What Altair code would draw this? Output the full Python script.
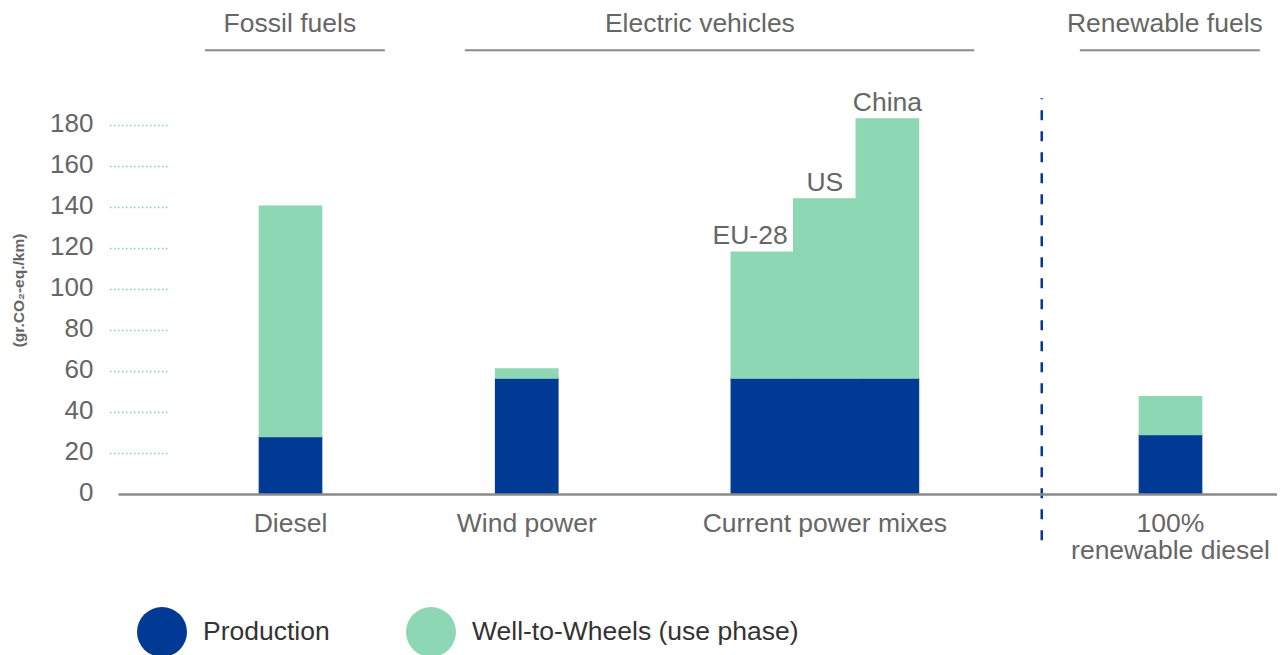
import altair as alt
import pandas as pd

FONT = "Liberation Sans"

# ---- data ----
bars = ["Diesel", "Wind power", "EU-28", "US", "China", "100% renewable diesel"]
bar_group_label = ["Diesel", "Wind power", "Current power mixes", "Current power mixes",
                   "Current power mixes", "100%\nrenewable diesel"]
bar_slot = [2.76, 6.54, 10.31, 11.31, 12.31, 16.84]          # bar centres, in bar-width units
production = [28, 56.5, 56.5, 56.5, 56.5, 29]
well_to_wheels = [112.5, 4.5, 61.5, 87.5, 126.5, 18.5]
mix_labels = ["EU-28", "US", "China"]

series = ["Production", "Well-to-Wheels (use phase)"]
series_colors = ["#003a94", "#8dd7b5"]

y_ticks = [0, 20, 40, 60, 80, 100, 120, 140, 160, 180]

header_names = ["Fossil fuels", "Electric vehicles", "Renewable fuels"]
header_text_pos = [2.75, 9.31, 16.75]
header_line_start = [1.39, 5.55, 15.39]
header_line_end = [4.27, 13.70, 18.27]
header_text_y = 225.5
header_line_y = 216.5

divider_pos = [14.78]
divider_low = [-22.5]
divider_high = [193]
category_label_y = -18.5

# ---- tables ----
rows = []
for i, b in enumerate(bars):
    base = 0.0
    for k, (s, v) in enumerate(zip(series, [production[i], well_to_wheels[i]])):
        rows.append(dict(bar=b, series=s, order=k,
                         x0=bar_slot[i] - 0.5, x1=bar_slot[i] + 0.5,
                         y0=base, y1=base + v))
        base += v
bar_df = pd.DataFrame(rows)

tot_df = pd.DataFrame(dict(bar=bars, center=bar_slot,
                           right=[c + 0.5 for c in bar_slot],
                           total=[p + w for p, w in zip(production, well_to_wheels)]))
mix_df = tot_df[tot_df["bar"].isin(mix_labels)]

cat_df = (pd.DataFrame(dict(label=bar_group_label, center=bar_slot))
          .groupby("label", sort=False, as_index=False)["center"].mean())
cat_df["y"] = category_label_y

head_df = pd.DataFrame(dict(name=header_names, pos=header_text_pos,
                            start=header_line_start, end=header_line_end,
                            ty=header_text_y, ly=header_line_y))
div_df = pd.DataFrame(dict(x=divider_pos, lo=divider_low, hi=divider_high))

xscale = alt.Scale(domain=[0, 18.544], nice=False, zero=False)
yscale = alt.Scale(domain=[0, 200], nice=False, zero=True)
cscale = alt.Scale(domain=series, range=series_colors)

x_axis = alt.Axis(labels=False, ticks=False, grid=False, domain=True,
                  domainColor="#8a8a8a", domainWidth=2.5, title=None, zindex=1)
y_axis = alt.Axis(values=y_ticks, title="(gr.CO₂-eq./km)",
                  labelFontSize=26, labelColor="#666666", labelFont=FONT,
                  labelPadding=15, labelOffset=-2, domain=False,
                  ticks=True, tickSize=59, tickDash=[1.5, 2.5],
                  tickColor="#7fd3ae", tickWidth=1.5,
                  tickOpacity={"condition": {"test": "datum.value === 0", "value": 0}, "value": 1},
                  offset=-49, grid=False,
                  titleX=-149, titleY=206, titleAngle=270,
                  titleAlign="center", titleBaseline="middle",
                  titleFontSize=15.5, titleFontWeight="bold",
                  titleColor="#666666", titleFont=FONT)


def X(field):
    return alt.X(field, scale=xscale, axis=x_axis)


def Y(field):
    return alt.Y(field, scale=yscale, axis=y_axis)


bars_layer = alt.Chart(bar_df).mark_bar(strokeWidth=1.2).encode(
    x=X("x0:Q"),
    x2="x1:Q",
    y=Y("y0:Q"),
    y2="y1:Q",
    color=alt.Color("series:N", scale=cscale,
                    legend=alt.Legend(title=None, orient="none", direction="horizontal",
                                      legendX=19, legendY=523, symbolType="circle",
                                      symbolSize=2500, symbolStrokeWidth=0,
                                      labelFontSize=26.5, labelColor="#333333",
                                      labelFont=FONT, labelOffset=16, labelLimit=500,
                                      columnPadding=76, padding=0, symbolOpacity=1)),
    stroke=alt.Stroke("series:N", scale=cscale, legend=None),
    order="order:Q",
)

mix_text_center = alt.Chart(mix_df[mix_df["bar"] != "EU-28"]).mark_text(
    font=FONT, fontSize=26.5, color="#666666", align="center", baseline="alphabetic", dy=-8
).encode(x=X("center:Q"), y=Y("total:Q"), text="bar:N")

mix_text_left = alt.Chart(mix_df[mix_df["bar"] == "EU-28"]).mark_text(
    font=FONT, fontSize=26.5, color="#666666", align="right", baseline="alphabetic", dy=-8, dx=-6
).encode(x=X("right:Q"), y=Y("total:Q"), text="bar:N")

cat_text = alt.Chart(cat_df).mark_text(
    font=FONT, fontSize=26.5, color="#666666", align="center", baseline="alphabetic",
    lineBreak="\n", lineHeight=27
).encode(x=X("center:Q"), y=Y("y:Q"), text="label:N")

head_text = alt.Chart(head_df).mark_text(
    font=FONT, fontSize=26.5, color="#666666", align="center", baseline="alphabetic"
).encode(x=X("pos:Q"), y=Y("ty:Q"), text="name:N")

head_rule = alt.Chart(head_df).mark_rule(color="#8a8a8a", strokeWidth=2).encode(
    x=X("start:Q"), x2="end:Q", y=Y("ly:Q"))

divider = alt.Chart(div_df).mark_rule(color="#003a94", strokeWidth=2.5, strokeDash=[10, 11]).encode(
    x=X("x:Q"), y=Y("lo:Q"), y2="hi:Q")

chart = alt.layer(
    bars_layer, mix_text_center, mix_text_left, cat_text, head_text, head_rule, divider
).properties(
    width=1159, height=410,
    autosize=alt.AutoSizeParams(type="none"),
    padding={"left": 110, "top": 76, "right": 0, "bottom": 165},
).configure(font=FONT, background="white").configure_view(stroke=None)

chart.save("out.html", embed_options={"renderer": "svg", "actions": False})
